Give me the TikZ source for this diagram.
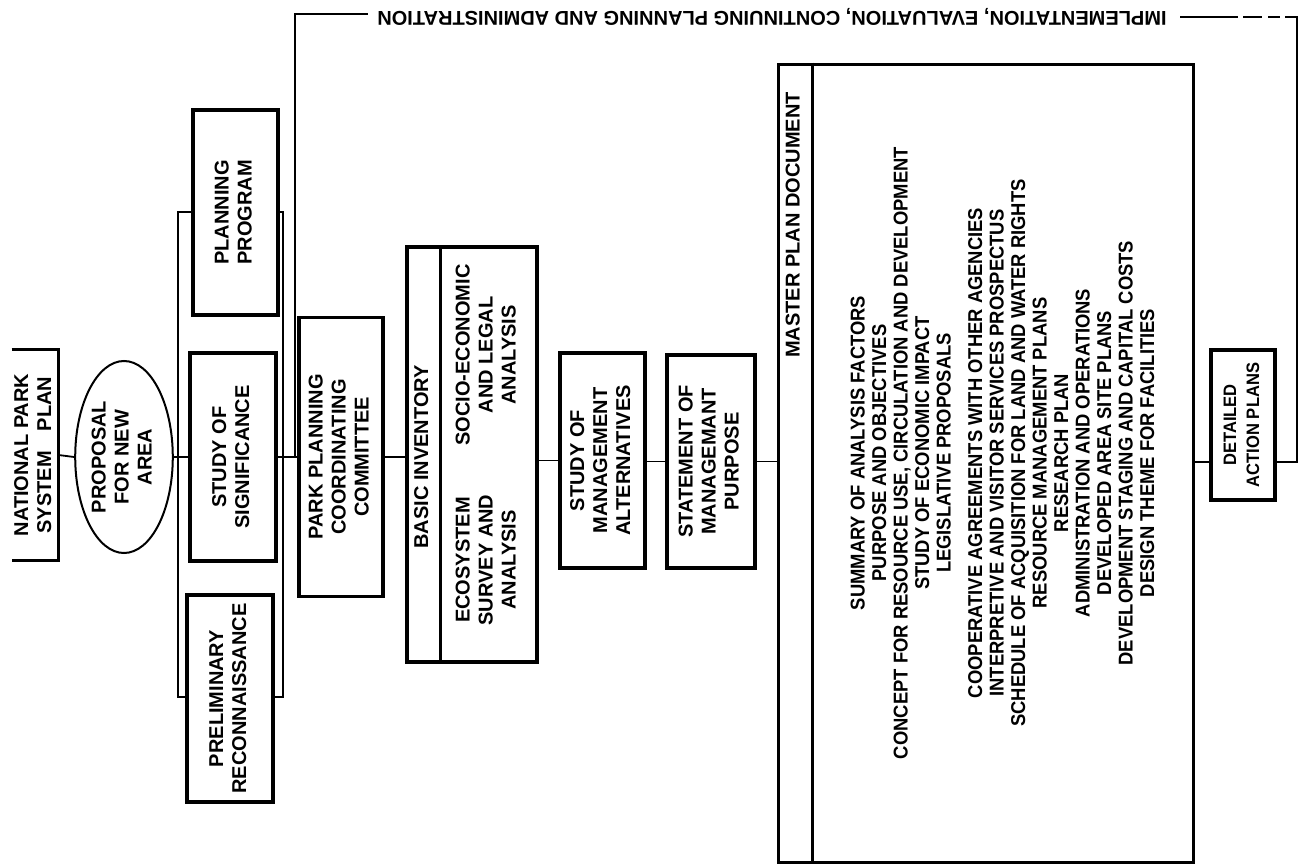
\documentclass[tikz,border=0pt]{standalone}
\usepackage{fontspec}
\setmainfont{Liberation Sans}
\newfontfamily\condfont{Liberation Sans}[FakeStretch=0.92]
\usetikzlibrary{shapes.geometric}
\newcommand{\rt}[1]{\rotatebox{90}{\begin{tabular}{@{}c@{}}#1\end{tabular}}}
\newcommand{\boxfont}{\fontsize{10}{11.5}\selectfont\bfseries}
\newcommand{\listfont}{\condfont\fontsize{10}{10.75}\selectfont\bfseries}
\newcommand{\detfont}{\condfont\fontsize{9}{11.5}\selectfont\bfseries}
\newcommand{\implfont}{\fontsize{10}{11}\selectfont\bfseries}
\begin{document}
\begin{tikzpicture}[x=0.5pt,y=-0.5pt,
  box/.style={draw, line width=1.8pt, fill=white, inner sep=0pt, font=\boxfont},
  lbl/.style={inner sep=0pt, font=\boxfont},
  conn/.style={line width=0.9pt},
  thinbox/.style={draw, line width=0.9pt, inner sep=0pt}]
\useasboundingbox (0,0) rectangle (1308,867);
% group bracket behind the three study boxes
\node[thinbox, minimum width=52.5pt, minimum height=242.5pt] (grp) at (230.5,454.5) {};
% national park system plan (open on the left)
\node[inner sep=0pt, font=\boxfont, minimum width=23pt, minimum height=105pt] (nps) at (35,455) {\rt{NATIONAL PARK\\SYSTEM\quad PLAN}};
\draw[line width=1.8pt] (nps.north west) -- (nps.north east) -- (nps.south east) -- (nps.south west);
% boxes
\node[ellipse, draw, line width=1pt, fill=white, inner sep=0pt, font=\boxfont, minimum width=43.5pt, minimum height=96pt] (prop) at (124,457) {\rt{PROPOSAL\\FOR NEW\\AREA}};
\node[box, minimum width=42.5pt, minimum height=102.5pt] (plan) at (235.5,212.5) {\rt{PLANNING\\PROGRAM}};
\node[box, minimum width=43pt, minimum height=104pt] (sig) at (233,457) {\rt{STUDY OF\\SIGNIFICANCE}};
\node[box, minimum width=43pt, minimum height=103.5pt] (prelim) at (230,698.5) {\rt{PRELIMINARY\\RECONNAISSANCE}};
\node[box, minimum width=42pt, minimum height=139.5pt] (ppcc) at (341,457) {\rt{PARK PLANNING\\COORDINATING\\COMMITTEE}};
\node[box, minimum width=65pt, minimum height=207.5pt] (basic) at (472,454.5) {};
\node[lbl] (bi) at (423.5,457) {\rt{BASIC INVENTORY}};
\node[lbl] (soc) at (488,355) {\rt{SOCIO-ECONOMIC\\AND LEGAL\\ANALYSIS}};
\node[lbl] (eco) at (488,560) {\rt{ECOSYSTEM\\SURVEY AND\\ANALYSIS}};
\node[box, minimum width=42.5pt, minimum height=107.5pt] (alt) at (602.5,460.5) {\rt{STUDY OF\\MANAGEMENT\\ALTERNATIVES}};
\node[box, minimum width=44pt, minimum height=106.5pt] (stmt) at (711,461.5) {\rt{STATEMENT OF\\MANAGEMANT\\PURPOSE}};
\node[box, line width=1.5pt, minimum width=207.5pt, minimum height=399pt] (master) at (985.5,463) {};
\node[lbl] (mpd) at (795,225) {\rt{MASTER PLAN DOCUMENT}};
\node[inner sep=0pt, font=\listfont] (mlist) at (1005,453) {\rt{SUMMARY OF ANALYSIS FACTORS\\
PURPOSE AND OBJECTIVES\\
CONCEPT FOR RESOURCE USE, CIRCULATION AND DEVELOPMENT\\
STUDY OF ECONOMIC IMPACT\\
LEGISLATIVE PROPOSALS\\[5pt]
COOPERATIVE AGREEMENTS WITH OTHER AGENCIES\\
INTERPRETIVE AND VISITOR SERVICES PROSPECTUS\\
SCHEDULE OF ACQUISITION FOR LAND AND WATER RIGHTS\\
RESOURCE MANAGEMENT PLANS\\
RESEARCH PLAN\\
ADMINISTRATION AND OPERATIONS\\
DEVELOPED AREA SITE PLANS\\
DEVELOPMENT STAGING AND CAPITAL COSTS\\
DESIGN THEME FOR FACILITIES}};
\node[box, font=\detfont, minimum width=32pt, minimum height=75pt] (detail) at (1243,425) {\rt{DETAILED\\ACTION PLANS}};
% dividers
\draw[line width=1.5pt] (basic.north -| 440,0) -- (basic.south -| 440,0);
\draw[line width=1.5pt] (master.north -| 812,0) -- (master.south -| 812,0);
% top feedback label
\node[inner sep=0pt, rotate=180, font=\implfont] (impl) at (772,17) {IMPLEMENTATION, EVALUATION, CONTINUING PLANNING AND ADMINISTRATION};
\coordinate (lj) at (295,457);
\coordinate (implL) at (368,14);
\coordinate (implR) at (1180,17);
\coordinate (rc) at (1297,17);
% connectors
\draw[conn] (nps.east) -- (prop.west);
\draw[conn] (prop.east) -- (sig.west);
\draw[conn] (sig.east) -- (ppcc.west);
\draw[conn] (lj) |- (implL);
\draw[conn] (ppcc.east) -- (basic.west |- ppcc.east);
\draw[conn] (alt.west -| basic.east) -- (alt.west);
\draw[conn] (stmt.west -| alt.east) -- (stmt.west);
\draw[conn] (stmt.east) -- (master.west |- stmt.east);
\draw[conn] (master.east |- 0,462) -- (detail.west |- 0,462);
\draw[conn, dash pattern=on 29pt off 2.5pt on 9.5pt off 3pt on 6pt off 2.5pt on 1000pt off 1pt] (implR) -- (rc) |- (detail.east |- 0,462);
\end{tikzpicture}
\end{document}
